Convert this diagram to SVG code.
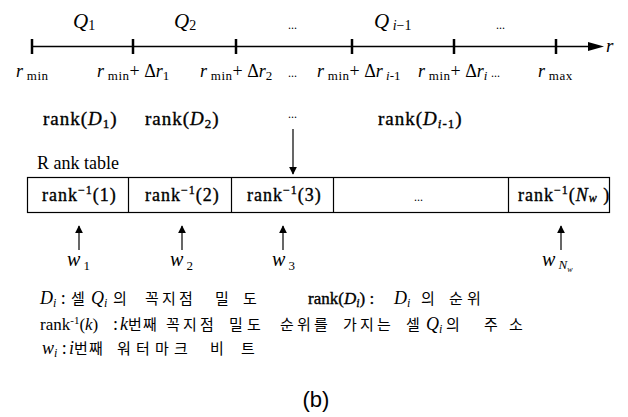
<svg xmlns="http://www.w3.org/2000/svg" width="628" height="417" viewBox="0 0 628 417">
<defs>
<style>
.s{font-family:"Liberation Serif","Times New Roman",serif;fill:#000}
.i{font-style:italic}
.bd{stroke:#000;stroke-width:0.35}
.k{font-family:"Noto Sans CJK KR","Noto Sans",sans-serif;fill:#000;font-size:15px}
.ln{stroke:#000;fill:none}
.d{font-family:"Liberation Serif",serif;font-size:12px;fill:#000}
</style>
<marker id="ah" viewBox="0 0 10 10" refX="9" refY="5" markerWidth="8" markerHeight="9" markerUnits="userSpaceOnUse" orient="auto"><path d="M0,0L10,5L0,10z" fill="#000"/></marker>
</defs>
<rect width="628" height="417" fill="#fff"/>

<g id="axis">
<line class="ln" x1="32" y1="46.5" x2="592" y2="46.5" stroke-width="1.3"/>
<path d="M604,46.5L588,42L588,51z" fill="#000"/>
<g class="ln" stroke-width="2.5">
<line x1="32" y1="39" x2="32" y2="54"/>
<line x1="133" y1="39" x2="133" y2="54"/>
<line x1="236" y1="39" x2="236" y2="54"/>
<line x1="352" y1="39" x2="352" y2="54"/>
<line x1="454" y1="39" x2="454" y2="54"/>
<line x1="556" y1="39" x2="556" y2="54"/>
</g>
<text class="s i" x="606" y="52" font-size="19">r</text>
</g>

<g id="segments" font-size="21">
<text class="s i" x="73" y="28">Q<tspan font-size="14" dy="2" font-style="normal">1</tspan></text>
<text class="s i" x="174" y="28">Q<tspan font-size="14" dy="2" font-style="normal">2</tspan></text>
<text class="d" x="288" y="29">...</text>
<text class="s i" x="374" y="28">Q<tspan font-size="14" dy="2"> i</tspan><tspan font-size="14" font-style="normal">−1</tspan></text>
<text class="d" x="496" y="29">...</text>
</g>

<g id="ticks" font-size="18">
<text class="s" x="16" y="77"><tspan class="i">r</tspan><tspan font-size="13" dy="3" letter-spacing="0.5"> min</tspan></text>
<text class="s" x="97" y="77"><tspan class="i">r</tspan><tspan font-size="13" dy="3" letter-spacing="0.5"> min</tspan><tspan dy="-3">+ Δ</tspan><tspan class="i">r</tspan><tspan font-size="13" dy="3">1</tspan></text>
<text class="s" x="200" y="77"><tspan class="i">r</tspan><tspan font-size="13" dy="3" letter-spacing="0.5"> min</tspan><tspan dy="-3">+ Δ</tspan><tspan class="i">r</tspan><tspan font-size="13" dy="3">2</tspan></text>
<text class="d" x="288" y="77">...</text>
<text class="s" x="317" y="77"><tspan class="i">r</tspan><tspan font-size="13" dy="3" letter-spacing="0.5"> min</tspan><tspan dy="-3">+ Δ</tspan><tspan class="i">r</tspan><tspan font-size="13" dy="3"><tspan class="i"> i</tspan>-1</tspan></text>
<text class="s" x="418" y="77"><tspan class="i">r</tspan><tspan font-size="13" dy="3" letter-spacing="0.5"> min</tspan><tspan dy="-3">+ Δ</tspan><tspan class="i">r</tspan><tspan font-size="13" dy="3" class="i">i</tspan></text>
<text class="d" x="491" y="77">...</text>
<text class="s" x="538" y="77"><tspan class="i">r</tspan><tspan font-size="13" dy="3" letter-spacing="0.5"> max</tspan></text>
</g>

<g id="ranks" font-size="19" letter-spacing="1">
<text class="s bd" x="43" y="125">rank(<tspan class="i">D</tspan><tspan font-size="13" dy="3">1</tspan><tspan dy="-3">)</tspan></text>
<text class="s bd" x="145" y="125">rank(<tspan class="i">D</tspan><tspan font-size="13" dy="3">2</tspan><tspan dy="-3">)</tspan></text>
<text class="d" x="288" y="118" letter-spacing="0">...</text>
<text class="s bd" x="378" y="125">rank(<tspan class="i">D</tspan><tspan font-size="13" dy="3"><tspan class="i">i</tspan>-1</tspan><tspan dy="-3">)</tspan></text>
</g>

<g id="connectors">
<line class="ln" x1="293" y1="129" x2="293" y2="174" stroke-width="1.2" marker-end="url(#ah)"/>
<line class="ln" x1="79" y1="250" x2="79" y2="226" stroke-width="1.2" marker-end="url(#ah)"/>
<line class="ln" x1="182" y1="250" x2="182" y2="226" stroke-width="1.2" marker-end="url(#ah)"/>
<line class="ln" x1="283" y1="250" x2="283" y2="226" stroke-width="1.2" marker-end="url(#ah)"/>
<line class="ln" x1="561" y1="250" x2="561" y2="226" stroke-width="1.2" marker-end="url(#ah)"/>
</g>

<g id="rank-table">
<text class="s" x="37" y="169" font-size="18">R ank table</text>
<rect class="ln" x="27.5" y="177.5" width="582" height="35" stroke-width="1.2"/>
<g class="ln" stroke-width="1.2">
<line x1="128.5" y1="177.5" x2="128.5" y2="212.5"/>
<line x1="231.5" y1="177.5" x2="231.5" y2="212.5"/>
<line x1="333.5" y1="177.5" x2="333.5" y2="212.5"/>
<line x1="508.5" y1="177.5" x2="508.5" y2="212.5"/>
</g>
<g font-size="18" letter-spacing="1">
<text class="s bd" x="42" y="201">rank<tspan font-size="12" dy="-7">−1</tspan><tspan dy="7">(1)</tspan></text>
<text class="s bd" x="145" y="201">rank<tspan font-size="12" dy="-7">−1</tspan><tspan dy="7">(2)</tspan></text>
<text class="s bd" x="247" y="201">rank<tspan font-size="12" dy="-7">−1</tspan><tspan dy="7">(3)</tspan></text>
<text class="d" x="414" y="201" letter-spacing="0">...</text>
<text class="s bd" x="518" y="201">rank<tspan font-size="12" dy="-7">−1</tspan><tspan dy="7">(</tspan><tspan class="i">N</tspan><tspan class="i" font-size="12" dy="1">w</tspan><tspan dy="-1"> )</tspan></text>
</g>
</g>

<g id="bits" font-size="20">
<text class="s i" x="67" y="266">w<tspan font-size="13" dy="4" font-style="normal"> 1</tspan></text>
<text class="s i" x="170" y="266">w<tspan font-size="13" dy="4" font-style="normal"> 2</tspan></text>
<text class="s i" x="272" y="266">w<tspan font-size="13" dy="4" font-style="normal"> 3</tspan></text>
<text class="s i" x="542" y="266">w<tspan font-size="13" dy="3"> N</tspan><tspan font-size="8" dy="3">w</tspan></text>
</g>

<g id="legend" font-size="18">
<text class="s i" x="40" y="304">D<tspan font-size="12" dy="3">i</tspan><tspan dy="-3" font-style="normal"> :</tspan></text>
<text class="k" x="71" y="304">셀</text>
<text class="s i" x="91" y="304">Q<tspan font-size="12" dy="3">i</tspan></text>
<text class="k" x="113 145 162 179 215 243" y="304">의꼭지점밀도</text>
<text class="s bd" x="308" y="304" font-size="17">rank(<tspan class="i">D</tspan><tspan font-size="12" dy="3" class="i">i</tspan><tspan dy="-3">) :</tspan></text>
<text class="s i" x="394" y="304">D<tspan font-size="12" dy="3">i</tspan></text>
<text class="k" x="421 449 467" y="304">의순위</text>

<text class="s" x="40" y="330" font-size="17">rank<tspan font-size="11" dy="-6">-1</tspan><tspan dy="6">(</tspan><tspan class="i">k</tspan>)</text>
<text class="s" x="113" y="330">:</text>
<text class="s i" x="120" y="330">k</text>
<text class="k" x="128 143 166 183 200 229 247 280 297 314 343 360 377 406" y="330">번째꼭지점밀도순위를가지는셀</text>
<text class="s i" x="426" y="330">Q<tspan font-size="12" dy="3">i</tspan></text>
<text class="k" x="446 484 509" y="330">의주소</text>

<text class="s i" x="42" y="354">w<tspan font-size="12" dy="3">i</tspan><tspan dy="-3" font-style="normal"> :</tspan></text>
<text class="s i" x="69" y="354">i</text>
<text class="k" x="74 89 117 136 155 174 210 241" y="354">번째워터마크비트</text>
</g>

<text x="316" y="407" font-size="22" text-anchor="middle" font-family="Liberation Sans,Arial,sans-serif" fill="#000">(b)</text>
</svg>
